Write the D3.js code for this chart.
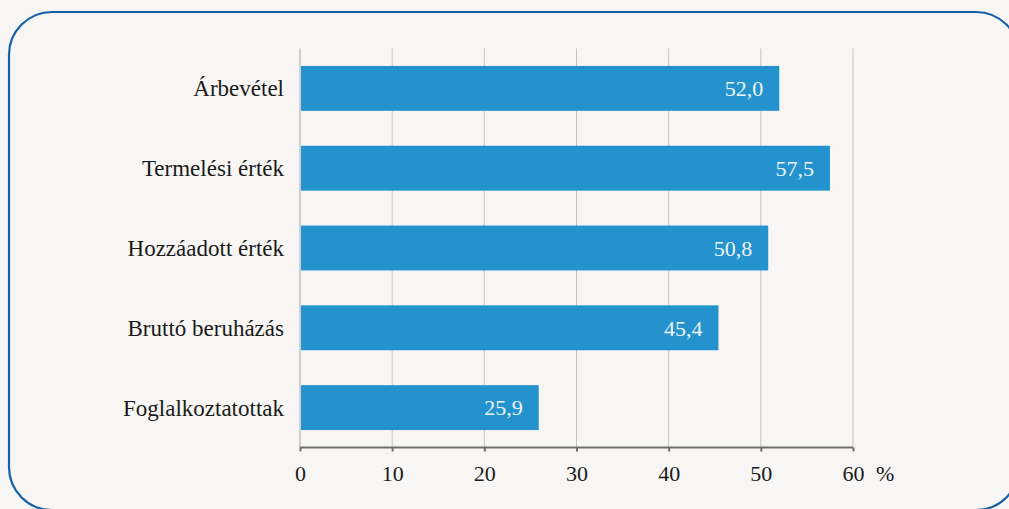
<!DOCTYPE html>
<html>
<head>
<meta charset="utf-8">
<script src="https://cdn.jsdelivr.net/npm/d3@7/dist/d3.min.js"></script>
<style>
  html, body { margin: 0; padding: 0; background: #f7f6f4; }
  svg { display: block; }
</style>
</head>
<body>
<svg id="chart" width="1009" height="509"></svg>
<script>
const categories = ["Árbevétel", "Termelési érték", "Hozzáadott érték", "Bruttó beruházás", "Foglalkoztatottak"];
const values = [52.0, 57.5, 50.8, 45.4, 25.9];
const xTicks = [0, 10, 20, 30, 40, 50, 60];
const unitLabel = "%";

const FONT = "'Liberation Serif', 'Times New Roman', Times, 'DejaVu Serif', serif";
const svg = d3.select("#chart").attr("font-family", FONT);
const W = 1009, H = 509;

svg.append("rect").attr("width", W).attr("height", H).attr("fill", "#f7f6f4");

// rounded frame
svg.append("rect")
  .attr("x", 9).attr("y", 12)
  .attr("width", 1010).attr("height", 498)
  .attr("rx", 43).attr("ry", 43)
  .attr("fill", "none")
  .attr("stroke", "#1560a6")
  .attr("stroke-width", 2.2);

const margin = { left: 300, right: 156, top: 48.5, bottom: 61.5 };
const x = d3.scaleLinear().domain([0, 60]).range([margin.left, W - margin.right]);
const y = d3.scaleBand().domain(categories).range([margin.top, H - margin.bottom]).paddingInner(0.4375).paddingOuter(0.21875);

const fmt = v => d3.format(".1f")(v).replace(".", ",");

// gridlines
svg.append("g").selectAll("line").data(xTicks).join("line")
  .attr("x1", d => x(d)).attr("x2", d => x(d))
  .attr("y1", margin.top).attr("y2", H - margin.bottom)
  .attr("stroke", d => d === 0 ? "#a8a8a8" : "#c4c4c4")
  .attr("stroke-width", 1);

// bars
svg.append("g").selectAll("rect").data(values).join("rect")
  .attr("x", x(0) + 1)
  .attr("y", (d, i) => y(categories[i]))
  .attr("width", d => x(d) - x(0) - 1)
  .attr("height", y.bandwidth())
  .attr("fill", "#2492cd");

// value labels
svg.append("g").selectAll("text").data(values).join("text")
  .attr("x", d => x(d) - 16)
  .attr("y", (d, i) => y(categories[i]) + y.bandwidth() / 2)
  .attr("dy", "0.35em")
  .attr("text-anchor", "end")
  .attr("font-family", FONT)
  .attr("font-size", 22)
  .attr("fill", "#eef4fa")
  .text(d => fmt(d));

// category labels
svg.append("g").selectAll("text").data(categories).join("text")
  .attr("x", margin.left - 16)
  .attr("y", d => y(d) + y.bandwidth() / 2)
  .attr("dy", "0.35em")
  .attr("text-anchor", "end")
  .attr("font-family", FONT)
  .attr("font-size", 23)
  .attr("fill", "#1a1a1a")
  .text(d => d);

// x axis
const axis = d3.axisBottom(x).tickValues(xTicks).tickSize(4).tickPadding(14).tickFormat(d3.format("d"));
const gAxis = svg.append("g").attr("transform", `translate(0,${H - margin.bottom})`).call(axis);
gAxis.attr("font-family", FONT);
gAxis.select(".domain").attr("stroke", "#6e6e6e").attr("stroke-width", 2).attr("d", `M${x(0)},0H${x(60)}`);
gAxis.selectAll(".tick line").attr("stroke", "#6e6e6e").attr("stroke-width", 2);
gAxis.selectAll(".tick text").attr("font-size", 22).attr("fill", "#1a1a1a")
  .attr("font-family", FONT);

svg.append("text")
  .attr("x", x(60) + 23).attr("y", H - margin.bottom + 18)
  .attr("dy", "0.71em")
  .attr("font-family", FONT)
  .attr("font-size", 22).attr("fill", "#1a1a1a")
  .text(unitLabel);
</script>
</body>
</html>
